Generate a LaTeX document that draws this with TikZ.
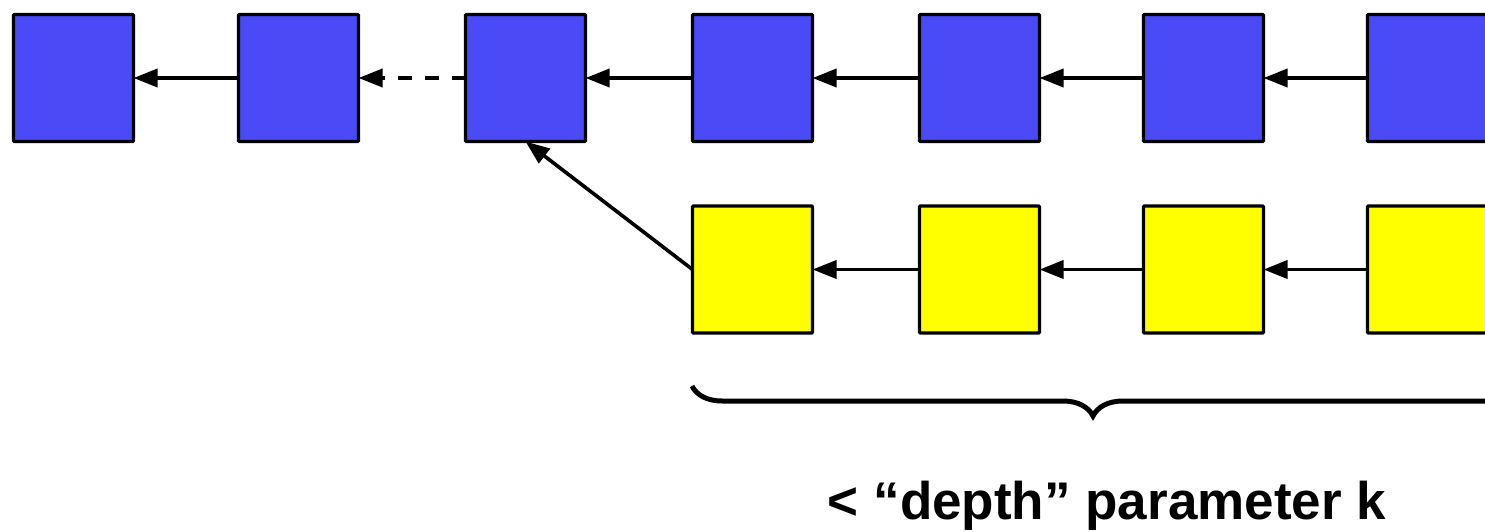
\documentclass[tikz,border=0pt]{standalone}
\usepackage{fontspec}
\setmainfont{Liberation Sans}
\usetikzlibrary{arrows.meta,decorations.pathreplacing}
\definecolor{chainblue}{RGB}{74,74,247}
\definecolor{forkyellow}{RGB}{255,255,0}
\tikzset{
  block/.style={draw=black, line width=3.2pt, minimum width=120pt, minimum height=127pt,
                inner sep=0pt, outer sep=0pt, rounded corners=0.8pt},
  bluebk/.style={block, fill=chainblue},
  yellowbk/.style={block, fill=forkyellow},
  link/.style={line width=3.6pt, -{Triangle[length=24pt,width=18pt]}},
  gaplink/.style={link, dash pattern=on 14pt off 13pt}
}
\begin{document}
\begin{tikzpicture}[x=1pt,y=-1pt]
\useasboundingbox (0,0) rectangle (1485,531);

% main chain
\node[bluebk] (b1) at (73.5,78) {};
\node[bluebk] (b2) at (298.5,78) {};
\node[bluebk] (b3) at (525.5,78) {};
\node[bluebk] (b4) at (752.5,78) {};
\node[bluebk] (b5) at (979.5,78) {};
\node[bluebk] (b6) at (1203.5,78) {};
\node[bluebk] (b7) at (1427.5,78) {};

% forked branch
\node[yellowbk] (y1) at (752.5,269.5) {};
\node[yellowbk] (y2) at (979.5,269.5) {};
\node[yellowbk] (y3) at (1203.5,269.5) {};
\node[yellowbk] (y4) at (1427.5,269.5) {};

% back-pointers
\draw[link] (b2) -- (b1);
\draw[gaplink] (b3) -- (b2);
\draw[link] (b4) -- (b3);
\draw[link] (b5) -- (b4);
\draw[link] (b6) -- (b5);
\draw[link] (b7) -- (b6);

\draw[link] (y2) -- (y1);
\draw[link] (y3) -- (y2);
\draw[link] (y4) -- (y3);
\draw[link] (y1.west) -- (b3.south);

% brace under the branch, running on past the right edge
\coordinate (bl) at (692,386);
\coordinate (br) at (1530,386);
\draw[line width=5pt, decorate,
      decoration={brace, amplitude=30pt, mirror, aspect=0.4785}] (bl) -- (br);

\node[font=\bfseries\fontsize{53}{60}\selectfont, anchor=base, inner sep=0pt] (lbl) at (1107,519)
  {< “depth” parameter k};
\end{tikzpicture}
\end{document}
